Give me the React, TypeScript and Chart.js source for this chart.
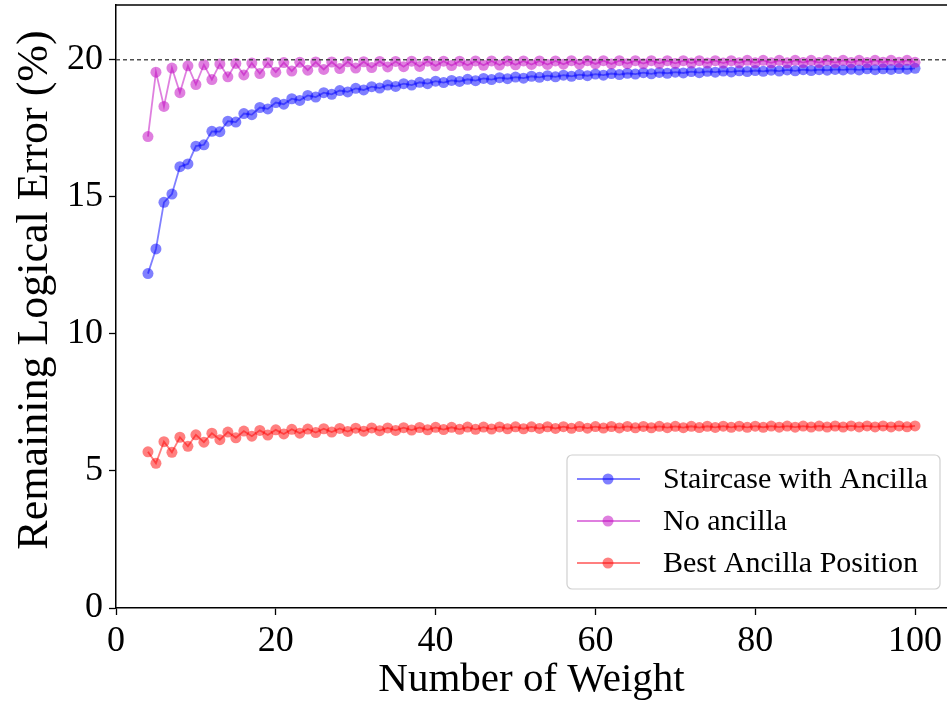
import React, { useEffect, useRef } from "react";
import { Chart, registerables } from "chart.js";

Chart.register(...registerables);

const weights = [
  4, 5, 6, 7, 8, 9, 10, 11, 12, 13,
  14, 15, 16, 17, 18, 19, 20, 21, 22, 23,
  24, 25, 26, 27, 28, 29, 30, 31, 32, 33,
  34, 35, 36, 37, 38, 39, 40, 41, 42, 43,
  44, 45, 46, 47, 48, 49, 50, 51, 52, 53,
  54, 55, 56, 57, 58, 59, 60, 61, 62, 63,
  64, 65, 66, 67, 68, 69, 70, 71, 72, 73,
  74, 75, 76, 77, 78, 79, 80, 81, 82, 83,
  84, 85, 86, 87, 88, 89, 90, 91, 92, 93,
  94, 95, 96, 97, 98, 99, 100,
];

const staircase = [
  12.2, 13.1, 14.8, 15.1, 16.1, 16.2, 16.85, 16.9, 17.39, 17.38,
  17.76, 17.73, 18.04, 18.0, 18.26, 18.21, 18.44, 18.38, 18.58, 18.52,
  18.7, 18.64, 18.8, 18.74, 18.88, 18.83, 18.96, 18.9, 19.02, 18.97,
  19.08, 19.03, 19.13, 19.08, 19.18, 19.13, 19.22, 19.17, 19.25, 19.21,
  19.29, 19.24, 19.32, 19.28, 19.35, 19.31, 19.37, 19.33, 19.4, 19.36,
  19.42, 19.38, 19.44, 19.4, 19.46, 19.42, 19.48, 19.44, 19.5, 19.46,
  19.51, 19.48, 19.53, 19.49, 19.54, 19.51, 19.55, 19.52, 19.57, 19.53,
  19.58, 19.55, 19.59, 19.56, 19.6, 19.57, 19.61, 19.58, 19.62, 19.59,
  19.63, 19.6, 19.64, 19.61, 19.64, 19.62, 19.65, 19.63, 19.66, 19.63,
  19.67, 19.64, 19.67, 19.65, 19.68, 19.66, 19.69,
];

const noAncilla = [
  17.2, 19.55, 18.3, 19.7, 18.8, 19.78, 19.1, 19.82, 19.28, 19.85,
  19.38, 19.87, 19.45, 19.88, 19.5, 19.89, 19.55, 19.9, 19.59, 19.91,
  19.62, 19.92, 19.65, 19.92, 19.68, 19.93, 19.7, 19.93, 19.72, 19.94,
  19.74, 19.94, 19.75, 19.95, 19.76, 19.95, 19.78, 19.95, 19.79, 19.95,
  19.8, 19.96, 19.8, 19.96, 19.81, 19.96, 19.82, 19.96, 19.83, 19.96,
  19.83, 19.96, 19.84, 19.97, 19.84, 19.97, 19.85, 19.97, 19.85, 19.97,
  19.86, 19.97, 19.86, 19.97, 19.87, 19.97, 19.87, 19.97, 19.88, 19.97,
  19.88, 19.97, 19.88, 19.97, 19.89, 19.98, 19.89, 19.98, 19.89, 19.98,
  19.89, 19.98, 19.9, 19.98, 19.9, 19.98, 19.9, 19.98, 19.9, 19.98,
  19.9, 19.98, 19.91, 19.98, 19.91, 19.98, 19.91,
];

const bestAncilla = [
  5.7, 5.28, 6.07, 5.68, 6.23, 5.9, 6.32, 6.05, 6.38, 6.14,
  6.42, 6.21, 6.455, 6.27, 6.48, 6.31, 6.5, 6.35, 6.52, 6.38,
  6.53, 6.4, 6.54, 6.42, 6.55, 6.44, 6.56, 6.45, 6.57, 6.47,
  6.57, 6.48, 6.58, 6.49, 6.585, 6.5, 6.59, 6.51, 6.594, 6.52,
  6.6, 6.52, 6.6, 6.53, 6.605, 6.54, 6.61, 6.54, 6.61, 6.55,
  6.613, 6.55, 6.616, 6.557, 6.618, 6.56, 6.62, 6.565, 6.622, 6.57,
  6.624, 6.572, 6.625, 6.576, 6.627, 6.58, 6.629, 6.58, 6.63, 6.584,
  6.631, 6.587, 6.633, 6.59, 6.634, 6.59, 6.635, 6.594, 6.636, 6.596,
  6.637, 6.598, 6.638, 6.6, 6.639, 6.601, 6.64, 6.603, 6.641, 6.605,
  6.642, 6.606, 6.642, 6.608, 6.643, 6.609, 6.644,
];

const seriesNames = ["Staircase with Ancilla", "No ancilla", "Best Ancilla Position"];
const seriesColors = ["rgba(0,0,255,0.5)", "rgba(191,0,191,0.5)", "rgba(255,0,0,0.5)"];
const xTicks = [0, 20, 40, 60, 80, 100];
const yTicks = [0, 5, 10, 15, 20];
const referenceLevel = 20;
const xLabel = "Number of Weight";
const yLabel = "Remaining Logical Error (%)";

const FONT = "'Liberation Serif', 'Times New Roman', serif";

const framePlugin = {
  id: "frame",
  afterDatasetsDraw(chart: any) {
    const { ctx, chartArea, scales } = chart;
    ctx.save();
    const y = scales.y.getPixelForValue(referenceLevel);
    ctx.strokeStyle = "rgba(60,60,60,0.9)";
    ctx.lineWidth = 1.6;
    ctx.setLineDash([4, 3]);
    ctx.beginPath();
    ctx.moveTo(chartArea.left, y);
    ctx.lineTo(chartArea.right, y);
    ctx.stroke();
    ctx.setLineDash([]);
    ctx.strokeStyle = "#000";
    ctx.lineWidth = 1.5;
    ctx.beginPath();
    ctx.moveTo(chartArea.left, chartArea.top);
    ctx.lineTo(chartArea.right, chartArea.top);
    ctx.stroke();
    ctx.restore();
  },
  afterDraw(chart: any) {
    const { ctx, scales, chartArea } = chart;
    ctx.save();
    ctx.fillStyle = "#000";
    ctx.font = `36px ${FONT}`;
    ctx.textAlign = "center";
    ctx.textBaseline = "alphabetic";
    xTicks.forEach((v) => {
      ctx.fillText(String(v), scales.x.getPixelForValue(v), chartArea.bottom + 43);
    });
    ctx.translate(35, 290);
    ctx.rotate(-Math.PI / 2);
    ctx.font = `44px ${FONT}`;
    ctx.textAlign = "center";
    ctx.textBaseline = "middle";
    ctx.fillText(yLabel, 0, 0);
    ctx.restore();
  },
};

const legendPlugin = {
  id: "innerLegend",
  afterDraw(chart: any) {
    const { ctx } = chart;
    const boxL = 567, boxT = 455, boxW = 373, boxH = 134;
    ctx.save();
    ctx.fillStyle = "rgba(255,255,255,0.85)";
    ctx.strokeStyle = "#d0d0d0";
    ctx.lineWidth = 1.2;
    ctx.beginPath();
    (ctx as any).roundRect(boxL, boxT, boxW, boxH, 5);
    ctx.fill();
    ctx.stroke();
    ctx.font = `30px ${FONT}`;
    ctx.textBaseline = "middle";
    ctx.textAlign = "left";
    seriesNames.forEach((name, i) => {
      const cy = boxT + 24 + i * 42;
      ctx.strokeStyle = seriesColors[i];
      ctx.lineWidth = 1.8;
      ctx.beginPath();
      ctx.moveTo(577, cy);
      ctx.lineTo(640, cy);
      ctx.stroke();
      ctx.fillStyle = seriesColors[i];
      ctx.beginPath();
      ctx.arc(608, cy, 5.5, 0, Math.PI * 2);
      ctx.fill();
      ctx.fillStyle = "#000";
      ctx.fillText(name, 663, cy + 1);
    });
    ctx.restore();
  },
};

export default function App() {
  const ref = useRef<HTMLCanvasElement>(null);
  useEffect(() => {
    document.body.style.margin = "0";
    const canvas = ref.current!;
    const mk = (vals: number[]) => weights.map((x, i) => ({ x, y: vals[i] }));
    const series = [staircase, noAncilla, bestAncilla];
    const chart = new Chart(canvas, {
      type: "line",
      data: {
        datasets: series.map((vals, i) => ({
          label: seriesNames[i],
          data: mk(vals),
          borderColor: seriesColors[i],
          backgroundColor: seriesColors[i],
          pointBackgroundColor: seriesColors[i],
          pointBorderWidth: 0,
          pointRadius: 5.5,
          borderWidth: 1.8,
          fill: false,
          tension: 0,
          order: 3 - i,
        })),
      },
      options: {
        responsive: false,
        animation: false,
        layout: { autoPadding: false, padding: { top: 5, left: 0, right: 0, bottom: 0 } },
        plugins: { legend: { display: false }, tooltip: { enabled: false } },
        scales: {
          x: {
            type: "linear",
            min: 0,
            max: 104,
            afterFit: (s: any) => {
              s.height = 93;
              s.paddingLeft = 0;
              s.paddingRight = 0;
            },
            afterBuildTicks: (s: any) => {
              s.ticks = xTicks.map((v) => ({ value: v }));
            },
            ticks: { display: false, autoSkip: false },
            grid: { drawOnChartArea: false, drawTicks: true, tickLength: 7, color: "#000", tickWidth: 1.3 },
            border: { display: true, color: "#000", width: 1.5 },
            title: {
              display: true,
              text: xLabel,
              color: "#000",
              font: { family: FONT, size: 41, lineHeight: 1 },
              padding: { top: 0, bottom: 0 },
            },
          },
          y: {
            type: "linear",
            min: 0,
            max: 22,
            afterFit: (s: any) => {
              s.width = 116;
              s.paddingTop = 0;
              s.paddingBottom = 0;
            },
            afterBuildTicks: (s: any) => {
              s.ticks = yTicks.map((v) => ({ value: v }));
            },
            ticks: {
              color: "#000",
              font: { family: FONT, size: 36 },
              padding: 6,
              autoSkip: false,
              callback: (v: any) => String(v),
            },
            grid: { drawOnChartArea: false, drawTicks: true, tickLength: 7, color: "#000", tickWidth: 1.3 },
            border: { display: true, color: "#000", width: 1.5 },
            title: { display: false },
          },
        },
      },
      plugins: [framePlugin, legendPlugin],
    });
    return () => chart.destroy();
  }, []);
  return <canvas ref={ref} width={947} height={701} style={{ display: "block" }} />;
}
